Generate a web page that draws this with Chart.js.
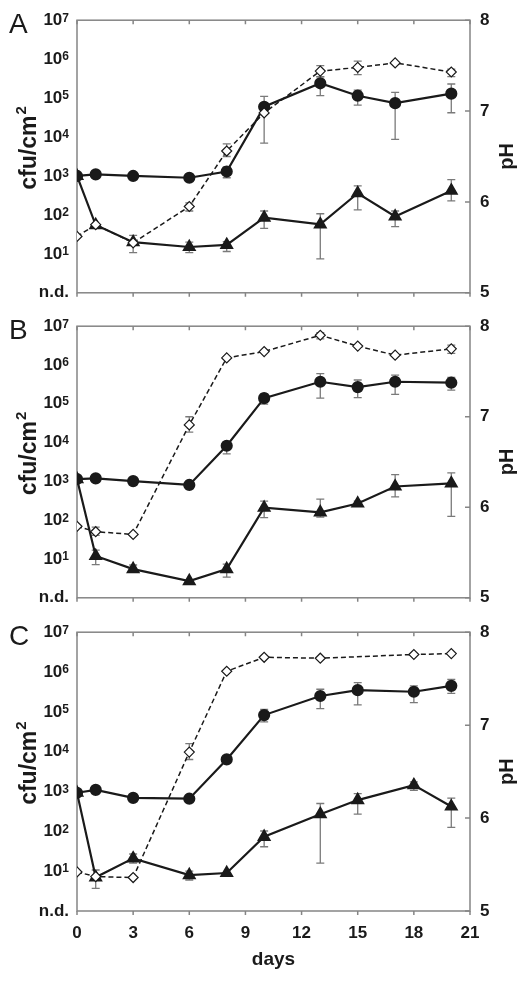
<!DOCTYPE html>
<html>
<head>
<meta charset="utf-8">
<script src="https://cdn.jsdelivr.net/npm/chart.js@4.4.1/dist/chart.umd.min.js"></script>
<style>
  body { margin: 0; background: #fff; }
  canvas { position: absolute; left: 0; }
</style>
</head>
<body>
<canvas id="panel-a" width="525" height="313" style="top:0px"></canvas>
<canvas id="panel-b" width="525" height="312" style="top:306px"></canvas>
<canvas id="panel-c" width="525" height="369" style="top:612px"></canvas>
<script>
const FONT = "'Liberation Sans', Arial, sans-serif";
const INK = '#1a1a1a';

// axes
const dayTicks = [0, 3, 6, 9, 12, 15, 18, 21];
const cfuTicks = [1, 10, 100, 1e3, 1e4, 1e5, 1e6, 1e7];
const cfuTickBase = ['n.d.', '10', '10', '10', '10', '10', '10', '10'];
const cfuTickExp = ['', '1', '2', '3', '4', '5', '6', '7'];
const phTicks = [5, 6, 7, 8];

// sampling days
const daysAB = [0, 1, 3, 6, 8, 10, 13, 15, 17, 20];
const daysC = [0, 1, 3, 6, 8, 10, 13, 15, 18, 20];
const daysCph = [0, 1, 3, 6, 8, 10, 13, 18, 20];

// panel A
const circlesA = [1000, 1100, 1000, 900, 1300, 60000, 240000, 115000, 74000, 130000];
const circlesALo = [null, null, null, null, 900, 7000, 115000, 66000, 8700, 42000];
const circlesAHi = [null, null, null, null, 1700, 110000, 350000, 160000, 140000, 230000];
const trianglesA = [1000, 55, 20, 15, 17, 85, 57, 360, 91, 420];
const trianglesALo = [null, null, 10.8, 10.8, 11.5, 45, 7.4, 135, 50, 230];
const trianglesAHi = [null, null, 30, 20, 20.5, 126, 107, 560, 126, 810];
const phA = [5.62, 5.75, 5.55, 5.95, 6.56, 6.98, 7.44, 7.48, 7.53, 7.43];
const phALo = [null, null, null, 5.90, 6.50, null, 7.38, 7.40, null, 7.38];
const phAHi = [null, null, null, 5.99, 6.64, null, 7.50, 7.55, null, 7.46];

// panel B
const circlesB = [1150, 1200, 1020, 810, 8300, 140000, 370000, 270000, 370000, 350000];
const circlesBLo = [null, null, null, 650, 5100, 98000, 140000, 145000, 175000, 225000];
const circlesBHi = [null, null, null, 1000, 10500, 180000, 600000, 410000, 550000, 480000];
const trianglesB = [1150, 12, 5.5, 2.7, 5.5, 210, 160, 270, 740, 890];
const trianglesBLo = [null, 7.2, 4.5, null, 3.4, 117, 120, 230, 400, 126];
const trianglesBHi = [null, 17, 7, null, 7.4, 310, 350, 310, 1500, 1650];
const phB = [5.79, 5.73, 5.70, 6.91, 7.65, 7.72, 7.90, 7.78, 7.68, 7.75];
const phBLo = [null, 5.69, null, 6.83, null, null, 7.86, null, null, 7.70];
const phBHi = [null, 5.78, null, 7.00, null, null, 7.93, null, null, 7.79];

// panel C
const circlesC = [930, 1100, 690, 660, 6400, 83000, 250000, 350000, 320000, 450000];
const circlesCLo = [null, null, null, null, null, 56000, 120000, 150000, 170000, 290000];
const circlesCHi = [null, null, null, null, null, 115000, 370000, 540000, 450000, 650000];
const trianglesC = [930, 7, 21, 8, 9, 73, 270, 610, 1450, 420];
const trianglesCLo = [null, 3.7, 16, 6, null, 41, 16, 270, 1070, 126];
const trianglesCHi = [null, 10.7, 27, 10, null, 102, 500, 890, 1740, 680];
const phC = [5.42, 5.37, 5.36, 6.71, 7.58, 7.73, 7.72, 7.76, 7.77];
const phCLo = [null, null, null, 6.63, null, null, null, null, null];
const phCHi = [null, null, null, 6.80, null, null, null, null, null];

const toPoints = (days, vals) => days.map((d, i) => ({ x: d, y: vals[i] }));

// frame, tick marks, error bars, labels
const figureDecor = {
  id: 'figureDecor',
  beforeDatasetsDraw(chart) {
    const { ctx, chartArea: a } = chart;
    const xs = chart.scales.x, ys = chart.scales.y1;
    ctx.save();
    ctx.strokeStyle = '#858585';
    ctx.lineWidth = 1.5;
    ctx.strokeRect(a.left, a.top, a.right - a.left, a.bottom - a.top);
    ctx.beginPath();
    dayTicks.forEach(d => {
      const x = xs.getPixelForValue(d);
      ctx.moveTo(x, a.top); ctx.lineTo(x, a.top + 4);
      ctx.moveTo(x, a.bottom); ctx.lineTo(x, a.bottom + 4);
    });
    phTicks.forEach(p => {
      const y = ys.getPixelForValue(p);
      ctx.moveTo(a.right - 5, y); ctx.lineTo(a.right, y);
    });
    ctx.stroke();

    ctx.strokeStyle = '#7a7a7a';
    ctx.lineWidth = 1.3;
    chart.data.datasets.forEach(ds => {
      if (!ds.errLo) return;
      const sc = chart.scales[ds.yAxisID];
      ctx.beginPath();
      ds.data.forEach((p, i) => {
        if (ds.errLo[i] == null) return;
        const x = xs.getPixelForValue(p.x);
        const y1 = sc.getPixelForValue(ds.errLo[i]);
        const y2 = sc.getPixelForValue(ds.errHi[i]);
        ctx.moveTo(x, y1); ctx.lineTo(x, y2);
        ctx.moveTo(x - 4, y1); ctx.lineTo(x + 4, y1);
        ctx.moveTo(x - 4, y2); ctx.lineTo(x + 4, y2);
      });
      ctx.stroke();
    });
    ctx.restore();
  },
  afterDraw(chart, args, opts) {
    const { ctx, chartArea: a } = chart;
    const ys = chart.scales.y;
    const mid = (a.top + a.bottom) / 2;
    ctx.save();
    ctx.fillStyle = INK;

    // log tick labels with superscripts
    cfuTicks.forEach((v, i) => {
      const y = ys.getPixelForValue(v);
      const right = 69;
      let ew = 0;
      if (cfuTickExp[i]) {
        ctx.font = `bold 12px ${FONT}`;
        ew = ctx.measureText(cfuTickExp[i]).width;
        ctx.textAlign = 'right';
        ctx.textBaseline = 'top';
        ctx.fillText(cfuTickExp[i], right, y - 8);
      }
      ctx.font = `bold 17px ${FONT}`;
      ctx.textAlign = 'right';
      ctx.textBaseline = 'middle';
      ctx.fillText(cfuTickBase[i], right - ew, y);
    });

    // left title cfu/cm2
    ctx.save();
    ctx.translate(28, mid - 8);
    ctx.rotate(-Math.PI / 2);
    ctx.font = `bold 23px ${FONT}`;
    const w1 = ctx.measureText('cfu/cm').width;
    ctx.font = `bold 15px ${FONT}`;
    const w2 = ctx.measureText('2').width;
    ctx.textAlign = 'left';
    ctx.textBaseline = 'middle';
    ctx.font = `bold 23px ${FONT}`;
    ctx.fillText('cfu/cm', -(w1 + w2) / 2, 2);
    ctx.font = `bold 15px ${FONT}`;
    ctx.fillText('2', -(w1 + w2) / 2 + w1 + 1, -6);
    ctx.restore();

    // right title pH
    ctx.save();
    ctx.translate(507, mid);
    ctx.rotate(-Math.PI / 2);
    ctx.font = `bold 20px ${FONT}`;
    ctx.textAlign = 'center';
    ctx.textBaseline = 'middle';
    ctx.fillText('pH', 0, 0);
    ctx.restore();

    // panel letter
    ctx.font = `28px ${FONT}`;
    ctx.textAlign = 'left';
    ctx.textBaseline = 'alphabetic';
    ctx.fillText(opts.letter, 9, a.top + 13);
    ctx.restore();
  }
};

function buildPanel(canvasId, letter, s, showDays) {
  let ctx = document.getElementById(canvasId);
  const tickFont = { size: 17, weight: 'bold', family: FONT };
  return new Chart(ctx, {
    type: 'line',
    data: {
      datasets: [
        {
          label: 'pH',
          data: toPoints(s.phDays, s.ph),
          yAxisID: 'y1',
          errLo: s.phLo, errHi: s.phHi,
          borderColor: INK,
          borderWidth: 1.5,
          borderDash: [5, 3],
          pointStyle: 'rectRot',
          pointRadius: 5,
          pointBackgroundColor: '#fff',
          pointBorderColor: INK,
          pointBorderWidth: 1.2,
        },
        {
          label: 'circles',
          data: toPoints(s.days, s.circles),
          yAxisID: 'y',
          errLo: s.circlesLo, errHi: s.circlesHi,
          borderColor: INK,
          borderWidth: 2.2,
          pointStyle: 'circle',
          pointRadius: 5,
          pointBackgroundColor: INK,
          pointBorderColor: INK,
        },
        {
          label: 'triangles',
          data: toPoints(s.days, s.triangles),
          yAxisID: 'y',
          errLo: s.trianglesLo, errHi: s.trianglesHi,
          borderColor: INK,
          borderWidth: 2.2,
          pointStyle: 'triangle',
          pointRadius: 6,
          pointBackgroundColor: INK,
          pointBorderColor: INK,
        },
      ]
    },
    options: {
      responsive: false,
      animation: false,
      devicePixelRatio: 1,
      layout: { padding: { top: 20, left: 0, right: 0, bottom: 0 } },
      plugins: {
        legend: { display: false },
        tooltip: { enabled: false },
        figureDecor: { letter: letter },
      },
      scales: {
        x: {
          type: 'linear',
          min: 0, max: 21,
          afterBuildTicks: sc => { sc.ticks = dayTicks.map(v => ({ value: v })); },
          afterFit: sc => { sc.height = showDays ? 70 : 14; },
          grid: { display: false, drawTicks: false },
          border: { display: false },
          ticks: { display: showDays, padding: 12, color: INK, font: tickFont },
          title: {
            display: showDays, text: 'days', color: INK,
            font: { size: 19, weight: 'bold', family: FONT },
            padding: { top: 0, bottom: 10 },
          },
        },
        y: {
          type: 'logarithmic',
          position: 'left',
          min: 1, max: 1e7,
          afterFit: sc => { sc.width = 77; },
          ticks: { display: false },
          grid: { display: false },
          border: { display: false },
        },
        y1: {
          type: 'linear',
          position: 'right',
          min: 5, max: 8,
          afterBuildTicks: sc => { sc.ticks = phTicks.map(v => ({ value: v })); },
          afterFit: sc => { sc.width = 55; },
          grid: { display: false, drawTicks: false },
          border: { display: false },
          ticks: { padding: 10, color: INK, font: tickFont },
        },
      },
    },
    plugins: [figureDecor],
  });
}

buildPanel('panel-a', 'A', {
  days: daysAB, phDays: daysAB,
  circles: circlesA, circlesLo: circlesALo, circlesHi: circlesAHi,
  triangles: trianglesA, trianglesLo: trianglesALo, trianglesHi: trianglesAHi,
  ph: phA, phLo: phALo, phHi: phAHi,
}, false);

buildPanel('panel-b', 'B', {
  days: daysAB, phDays: daysAB,
  circles: circlesB, circlesLo: circlesBLo, circlesHi: circlesBHi,
  triangles: trianglesB, trianglesLo: trianglesBLo, trianglesHi: trianglesBHi,
  ph: phB, phLo: phBLo, phHi: phBHi,
}, false);

buildPanel('panel-c', 'C', {
  days: daysC, phDays: daysCph,
  circles: circlesC, circlesLo: circlesCLo, circlesHi: circlesCHi,
  triangles: trianglesC, trianglesLo: trianglesCLo, trianglesHi: trianglesCHi,
  ph: phC, phLo: phCLo, phHi: phCHi,
}, true);
</script>
</body>
</html>
